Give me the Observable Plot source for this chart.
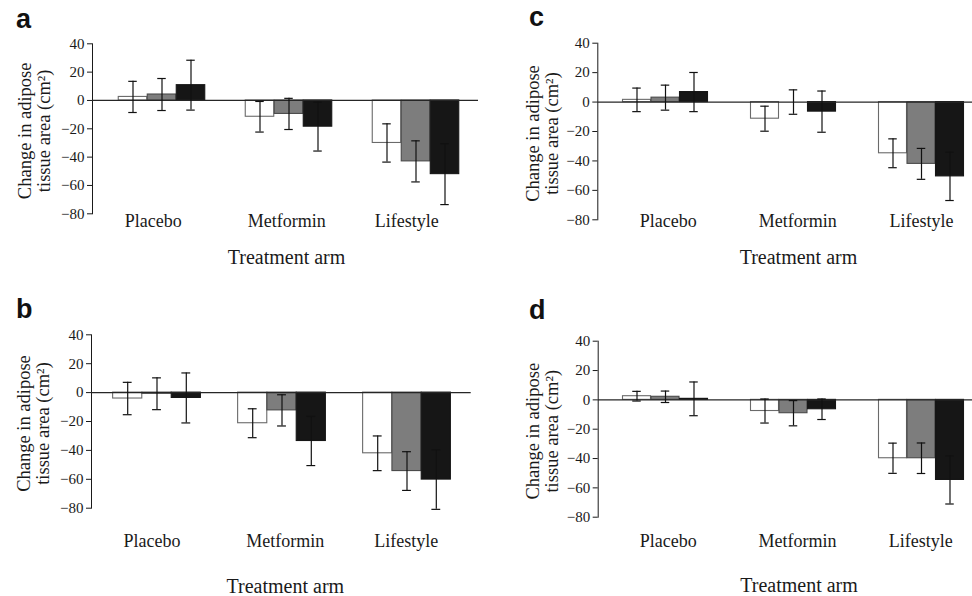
<!DOCTYPE html>
<html><head><meta charset="utf-8">
<script src="https://cdn.jsdelivr.net/npm/d3@7"></script>
<script src="https://cdn.jsdelivr.net/npm/@observablehq/plot@0.6"></script>
<style>
body{margin:0;background:#fff;}
#wrap{position:relative;width:972px;height:596px;overflow:hidden;background:#fff;}
.panel{position:absolute;}
.panel svg{overflow:visible;}
.panel svg, .panel svg text{font-family:"Liberation Serif","Times New Roman",serif !important;}
.letter{position:absolute;font-family:"Liberation Sans",Arial,sans-serif;font-weight:bold;font-size:27px;line-height:27px;color:#111;}
</style></head><body><div id="wrap"></div>
<script>
// ---- data ----
const groups = ["Placebo", "Metformin", "Lifestyle"];
const seriesNames = ["Group 1", "Group 2", "Group 3"];
const yTicks = [40, 20, 0, -20, -40, -60, -80];
const yLabelText = "Change in adipose\ntissue area (cm\u00b2)";
const xTitle = "Treatment arm";

// panel a
const meansA = [[2.5, 4.2, 10.8], [-11.5, -9.5, -18.5], [-30, -43, -52]];
const errsA  = [[11, 11.3, 17.6], [10.8, 11, 17.2], [13.5, 14.5, 21.5]];
// panel b
const meansB = [[-4.1, -0.8, -3.7], [-21.2, -12.3, -33.5], [-42, -54.3, -60.2]];
const errsB  = [[11.2, 11, 17.3], [10, 10.8, 17], [12, 13.4, 20.6]];
// panel c
const meansC = [[1.5, 3, 6.8], [-11.3, 0, -6.5], [-34.8, -42, -50.5]];
const errsC  = [[8, 8.5, 13.3], [8.5, 8.3, 14], [9.8, 10.5, 16.4]];
// panel d
const meansD = [[2.5, 2.1, 0.7], [-7.6, -9.1, -6.4], [-39.8, -39.8, -54.6]];
const errsD  = [[3.3, 3.9, 11.5], [8.2, 8.6, 7], [10.3, 10.4, 16.4]];

// ---- styling / layout ----
const serif = '"Liberation Serif", "Times New Roman", serif';
const fills = ["#ffffff", "#7d7d7d", "#161616"];
const strokes = ["#6a6a6a", "#4a4a4a", "#161616"];
const minus = d => d < 0 ? "\u2212" + (-d) : String(d);

const panels = [
  {letter: "a", means: meansA, errs: errsA, left: 0, top: 0, width: 485, height: 296,
   mt: 43.3, mb: 82.7, ml: 92, mr: 7, range: [96.75, 479.25], bw: 29, yLabelX: 34,
   catDy: 13.4, catDx: [-8.8, -2.2, -9.2], titleDy: 50, titleDx: 1, lx: 16, ly: 6},
  {letter: "c", means: meansC, errs: errsC, left: 490, top: 0, width: 482, height: 296,
   mt: 42.7, mb: 76.7, ml: 107.3, mr: 0, range: [110.55, 496.05], bw: 28.5, yLabelX: 52,
   catDy: 7.4, catDx: [2.7, 4.2, 0], titleDy: 44, titleDx: 13.3, lx: 529, ly: 4},
  {letter: "b", means: meansB, errs: errsB, left: 0, top: 290, width: 485, height: 306,
   mt: 44.3, mb: 88.3, ml: 91, mr: 14.3, range: [94.1, 469.55], bw: 29.3, yLabelX: 32.5,
   catDy: 39, catDx: [-5, 3.2, -0.7], titleDy: 84.8, titleDx: 4, lx: 16, ly: 296},
  {letter: "d", means: meansD, errs: errsD, left: 490, top: 300, width: 482, height: 296,
   mt: 40.7, mb: 79.3, ml: 107.7, mr: 0, range: [110.55, 496.05], bw: 28.5, yLabelX: 52,
   catDy: 30, catDx: [2.7, 3.9, -0.8], titleDy: 75, titleDx: 13.7, lx: 529, ly: 297}
];

const wrap = document.getElementById("wrap");

for (const p of panels) {
  const rows = groups.flatMap((g, i) => seriesNames.map((s, j) => ({
    group: g, series: s, idx: j, mean: p.means[i][j], err: p.errs[i][j]
  })));
  const step = (p.range[1] - p.range[0]) / groups.length;
  const inset = (step - p.bw) / 2;
  const capInset = (step - 9) / 2;
  const marks = [];
  seriesNames.forEach((s, j) => {
    const data = rows.filter(d => d.idx === j);
    const dx = (j - 1) * p.bw;
    marks.push(Plot.barY(data, {x: "group", y: "mean", fill: fills[j], stroke: strokes[j],
      strokeWidth: 1.1, insetLeft: inset, insetRight: inset, dx}));
  });
  marks.push(Plot.ruleY([0], {stroke: "#262626", strokeWidth: 1.2}));
  seriesNames.forEach((s, j) => {
    const data = rows.filter(d => d.idx === j);
    const dx = (j - 1) * p.bw;
    marks.push(Plot.ruleX(data, {x: "group", y1: d => d.mean - d.err, y2: d => d.mean + d.err,
      stroke: "#111", strokeWidth: 1.2, dx}));
    marks.push(Plot.tickY(data, {x: "group", y: d => d.mean + d.err, stroke: "#111",
      strokeWidth: 1.2, insetLeft: capInset, insetRight: capInset, dx}));
    marks.push(Plot.tickY(data, {x: "group", y: d => d.mean - d.err, stroke: "#111",
      strokeWidth: 1.2, insetLeft: capInset, insetRight: capInset, dx}));
  });
  groups.forEach((g, i) => {
    marks.push(Plot.text([g], {x: d => d, frameAnchor: "bottom", lineAnchor: "bottom",
      textAnchor: "middle", dy: p.catDy, dx: p.catDx[i], fontSize: 18, fontFamily: serif,
      fill: "#1a1a1a"}));
  });
  marks.push(Plot.text([xTitle], {frameAnchor: "bottom", lineAnchor: "bottom",
    textAnchor: "middle", dy: p.titleDy, dx: p.titleDx, fontSize: 20, fontFamily: serif,
    fill: "#1a1a1a"}));
  marks.push(Plot.text([yLabelText], {frameAnchor: "left", rotate: -90, lineAnchor: "middle",
    textAnchor: "middle", lineHeight: 1.05, dx: p.yLabelX - p.ml, dy: 2, fontSize: 18.5,
    fontFamily: serif, fill: "#1a1a1a"}));

  const chart = Plot.plot({
    width: p.width, height: p.height,
    marginTop: p.mt, marginBottom: p.mb, marginLeft: p.ml, marginRight: p.mr,
    style: {fontFamily: serif, fontSize: "15px",
      color: "#1a1a1a", background: "transparent", overflow: "visible"},
    x: {domain: groups, range: p.range, padding: 0, axis: null},
    y: {domain: [-80, 40], ticks: yTicks, tickSize: 5, tickPadding: 3, tickFormat: minus,
      label: null, line: true},
    marks
  });
  const div = document.createElement("div");
  div.className = "panel";
  div.style.left = p.left + "px";
  div.style.top = p.top + "px";
  div.appendChild(chart);
  wrap.appendChild(div);

  const lt = document.createElement("div");
  lt.className = "letter";
  lt.style.left = p.lx + "px";
  lt.style.top = p.ly + "px";
  lt.textContent = p.letter;
  wrap.appendChild(lt);
}
</script>
</body></html>
